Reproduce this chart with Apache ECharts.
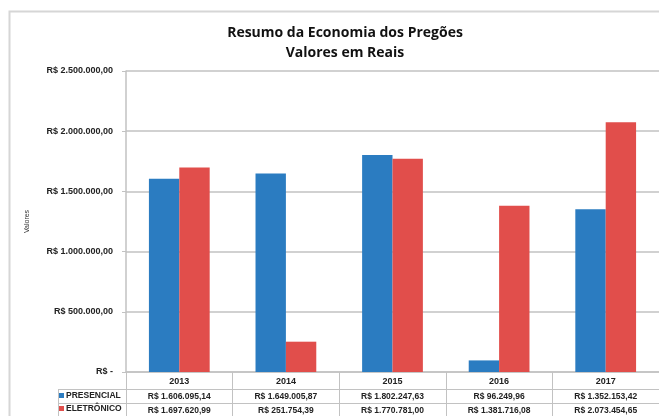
<!DOCTYPE html>
<html>
<head>
<meta charset="utf-8">
<script src="https://cdn.jsdelivr.net/npm/echarts@6/dist/echarts.min.js"></script>
<style>
  html, body { margin: 0; padding: 0; background: #fff; }
  #main { width: 659px; height: 416px; }
</style>
</head>
<body>
<div id="main"></div>
<script>
// dados do gráfico
var anos = ['2013', '2014', '2015', '2016', '2017'];
var presencial = [1606095.14, 1649005.87, 1802247.63, 96249.96, 1352153.42];
var eletronico = [1697620.99, 251754.39, 1770781.00, 1381716.08, 2073454.65];
var nomesSeries = ['PRESENCIAL', 'ELETRÔNICO'];
var yTicks = [0, 500000, 1000000, 1500000, 2000000, 2500000];

var AZUL = '#2b7cc1';
var VERMELHO = '#e14e4b';
var LINHA = '#c2c2c2';

// formata no padrão brasileiro: R$ 1.606.095,14
function reais(v) {
  if (v === 0) return 'R$ -';
  var partes = v.toFixed(2).split('.');
  var inteiro = partes[0].replace(/\B(?=(\d{3})+(?!\d))/g, '.');
  return 'R$ ' + inteiro + ',' + partes[1];
}

var chart = echarts.init(document.getElementById('main'));

var tabelaEixo = function (offset, valores) {
  return {
    type: 'category',
    data: anos,
    position: 'bottom',
    offset: offset,
    gridIndex: 0,
    axisLine: { show: true, lineStyle: { color: LINHA, width: 1 } },
    axisTick: { show: false },
    axisLabel: {
      margin: 3,
      fontFamily: 'Liberation Sans, Arial',
      fontWeight: 'bold',
      fontSize: 8.5,
      color: '#222',
      formatter: function (v, i) { return reais(valores[i]); }
    }
  };
};

chart.setOption({
  animation: false,
  title: {
    text: 'Resumo da Economia dos Pregões\nValores em Reais',
    left: 340,
    top: 18,
    textAlign: 'center',
    textStyle: {
      fontFamily: 'Open Sans',
      fontWeight: 'bold',
      fontSize: 14,
      lineHeight: 20,
      color: '#111'
    }
  },
  legend: {
    orient: 'vertical',
    left: 59,
    top: 391,
    itemGap: 4,
    itemWidth: 5,
    itemHeight: 5,
    icon: 'rect',
    padding: 0,
    data: nomesSeries,
    formatter: function (n) { return '{b|' + n + '}'; },
    textStyle: {
      rich: {
        b: {
          fontFamily: 'Liberation Sans',
          fontWeight: 700,
          fontSize: 8.5,
          color: '#222',
          padding: [0, 0, 0, -3]
        }
      }
    }
  },
  grid: { left: 126, top: 71, right: -2, bottom: 44 },
  xAxis: [
    {
      type: 'category',
      data: anos,
      position: 'bottom',
      axisLine: { show: true, lineStyle: { color: LINHA, width: 1.5 } },
      axisTick: { show: true, length: 44, lineStyle: { color: LINHA, width: 1 } },
      axisLabel: {
        margin: 5,
        fontFamily: 'Liberation Sans, Arial',
        fontWeight: 'bold',
        fontSize: 9,
        color: '#222'
      }
    },
    tabelaEixo(17, presencial),
    tabelaEixo(31, eletronico)
  ],
  yAxis: {
    type: 'value',
    min: yTicks[0],
    max: yTicks[yTicks.length - 1],
    interval: yTicks[1] - yTicks[0],
    name: 'Valores',
    nameLocation: 'middle',
    nameGap: 95,
    nameTextStyle: {
      fontFamily: 'Liberation Sans, Arial',
      fontSize: 7,
      color: '#333'
    },
    axisLine: { show: true, lineStyle: { color: LINHA, width: 1.5 } },
    axisTick: { show: true, length: 4, lineStyle: { color: LINHA } },
    splitLine: { lineStyle: { color: LINHA, width: 1.5 } },
    axisLabel: {
      margin: 13,
      fontFamily: 'Liberation Sans, Arial',
      fontWeight: 'bold',
      fontSize: 9,
      color: '#222',
      formatter: reais
    }
  },
  series: [
    {
      name: nomesSeries[0],
      type: 'bar',
      data: presencial,
      itemStyle: { color: AZUL },
      barGap: '0%',
      barCategoryGap: '43%'
    },
    {
      name: nomesSeries[1],
      type: 'bar',
      data: eletronico,
      itemStyle: { color: VERMELHO }
    }
  ],
  graphic: [
    // moldura do gráfico
    { type: 'rect', shape: { x: 9.5, y: 11.5, width: 700, height: 500 },
      style: { fill: 'none', stroke: '#d6d6d6', lineWidth: 2 }, silent: true },
    // coluna da legenda na tabela
    { type: 'line', shape: { x1: 58, y1: 389.5, x2: 126, y2: 389.5 }, style: { stroke: LINHA, lineWidth: 1 } },
    { type: 'line', shape: { x1: 58, y1: 403.5, x2: 126, y2: 403.5 }, style: { stroke: LINHA, lineWidth: 1 } },
    { type: 'line', shape: { x1: 58.5, y1: 389, x2: 58.5, y2: 416 }, style: { stroke: LINHA, lineWidth: 1 } }
  ]
});
</script>
</body>
</html>
